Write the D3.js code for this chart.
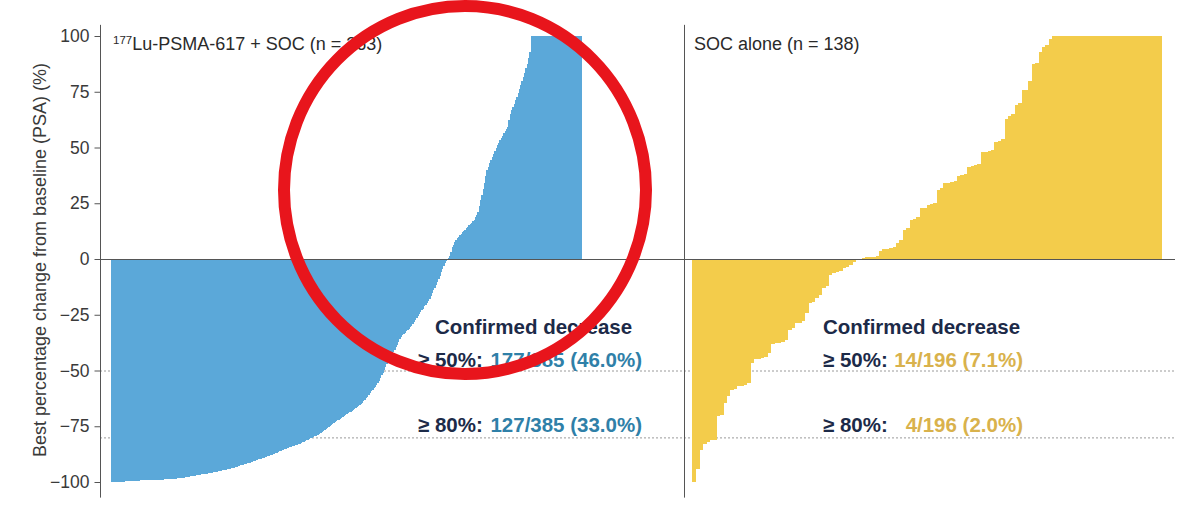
<!DOCTYPE html>
<html>
<head>
<meta charset="utf-8">
<script src="https://cdn.jsdelivr.net/npm/d3@7"></script>
<style>
  body { margin: 0; background: #fff; }
  svg { display: block; font-family: "Liberation Sans", Arial, sans-serif; }
</style>
</head>
<body>
<svg id="chart" width="1200" height="510"></svg>
<script>
// best PSA change per patient, sorted
const luValues = [
  -100,-100,-100,-100,-100,-100,-99.9,-99.9,-99.8,-99.8,-99.7,-99.7,-99.6,-99.6,-99.5,
  -99.5,-99.5,-99.5,-99.4,-99.4,-99.4,-99.4,-99.3,-99.3,-99.3,-99.3,-99.2,-99.2,-99.2,-99.2,
  -99.1,-99.1,-99.1,-99.0,-99.0,-99.0,-99.0,-98.9,-98.9,-98.9,-98.8,-98.8,-98.8,-98.7,-98.7,-98.7,
  -98.6,-98.6,-98.5,-98.5,-98.4,-98.3,-98.2,-98.2,-98.1,-98.0,-97.9,-97.8,-97.7,-97.6,-97.5,
  -97.4,-97.3,-97.2,-97.1,-97.0,-96.9,-96.8,-96.7,
  -96.6,-96.5,-96.4,-96.3,-96.2,-96.1,-96.0,-95.9,-95.8,-95.6,-95.5,-95.4,-95.3,-95.1,-95.0,
  -94.9,-94.8,-94.7,-94.5,-94.4,-94.3,-94.1,-94.0,-93.9,-93.7,
  -93.5,-93.3,-93.2,-93.0,-92.8,-92.6,-92.4,-92.2,-92.0,-91.8,-91.7,-91.5,-91.3,
  -91.1,-90.9,-90.7,-90.5,-90.3,-90.1,-89.9,-89.7,-89.5,-89.3,-89.1,-88.9,-88.7,-88.5,
  -88.3,-88.0,-87.8,-87.5,-87.3,-87.0,-86.8,-86.5,-86.3,-86.0,-85.8,-85.5,-85.2,
  -85.0,-84.8,-84.6,-84.4,-84.2,-84.0,-83.8,-83.6,-83.4,-83.2,-83.0,-82.8,-82.5,
  -82.2,-81.9,-81.6,-81.3,-81.0,-80.7,-80.4,-80.1,-79.8,-79.5,-79.3,-79.0,-78.8,
  -78.4,-78.0,-77.5,-77.0,-76.6,-76.2,-75.7,-75.3,-74.8,-74.4,-74.0,-73.6,
  -73.2,-72.8,-72.4,-72.0,-71.6,-71.2,-70.8,-70.4,-70.0,-69.6,-69.2,-68.8,-68.4,
  -68.0,-67.6,-67.2,-66.8,-66.3,-65.9,-65.4,-65.0,
  -64.4,-63.7,-63.1,-62.4,-61.7,
  -61.0,-60.2,-59.4,-58.7,-58.0,-57.2,-56.5,-55.7,
  -54.5,-53.3,-52.1,-50.9,-49.7,
  -48.5,-47.3,-46.2,-45.0,
  -43.9,-42.9,-41.8,-40.8,
  -39.6,-38.4,-37.2,-36.0,-34.8,
  -34.2,-33.6,-33.0,-32.4,-31.8,-31.2,-30.6,-30.0,
  -29.1,-28.2,-27.3,-26.5,-25.6,-24.7,-23.9,-23.0,
  -22.2,-21.3,-20.5,-19.7,-18.8,-18.0,
  -16.7,-15.4,-14.1,-12.9,-11.6,-10.3,-9.0,
  -7.5,-6.0,-4.5,-3.0,
  -2.0,-1.0,-0.3,
  0.5,1.5,3.0,5.5,6.5,7.5,8.4,9.2,
  9.9,10.6,11.2,11.9,12.6,13.2,13.9,14.5,
  15.1,15.7,16.3,16.9,17.5,18.7,19.9,21.0,23.7,26.4,
  28.9,31.5,34.0,37.0,39.9,
  41.4,42.9,44.4,45.8,47.3,48.5,49.7,50.9,52.1,53.3,
  54.3,55.3,56.3,57.2,58.2,59.2,62.2,65.2,
  66.7,68.2,69.7,71.2,72.7,74.5,76.3,78.0,79.8,81.6,
  83.6,85.6,87.6,90.3,93.0,
  100,100,100,100,100,100,100,100,100,100,100,100,100,
  100,100,100,100,100,100,100,100,100,100,100,100,100,
  100,100,100,100,100,100,100,100,100,100,100,100,100
];

const socValues = [
  -100,-94,-85.5,-83,-82,-81,-81,-70.6,-70,-64.6,-61.6,-58.7,-58.5,-57,-57,-56.5,-55.7,
  -46.7,-45,-45,-44.5,-44,-42,-38,-37.8,-37.5,-37,-36.5,-31.8,-31,-28.8,-28.5,-28,-24.3,
  -19.9,-19.5,-17.6,-16,-13,-12,-7,-6.4,-6,-5.5,-4.2,-3.5,-2.7,-1.5,-0.5,
  0.2,
  0.3,0.7,0.8,1,1.5,3.5,4.3,4.5,4.8,5.5,7,8.5,13,14,17.5,18,19,
  22.7,23,24.2,24.5,25,31,32,34,34,34.5,35,37,37.5,38,41.3,41.5,42,42.8,48,48,48.5,49,
  52.5,53,54,63,64,65,69,70,75.7,76,80,87.6,88,92.8,95,96,98.8,
  100,100,100,100,100,100,100,100,100,100,100,100,100,100,100,100,
  100,100,100,100,100,100,100,100,100,100,100,100,100,100,100,100
];

const tickValues = [-100, -75, -50, -25, 0, 25, 50, 75, 100];
const thresholds = [-50, -80];
const summaryLabels = ['\u2265 50%:', '\u2265 80%:'];
const luSummary = ['177/385 (46.0%)', '127/385 (33.0%)'];
const socSummary = ['14/196 (7.1%)', '4/196 (2.0%)'];

const blue = '#5ba8d9';
const yellow = '#f3cc4b';
const navy = '#1c2a48';

const svg = d3.select('#chart');

/* Scales */
let y = d3.scaleLinear().domain([-100, 100]).range([482, 36]);
let xLu = d3.scaleBand().domain(d3.range(luValues.length)).range([111, 581]).padding(0);
let xSoc = d3.scaleBand().domain(d3.range(socValues.length)).range([692, 1161]).padding(0);

let axisX = 100;
let dividerX = 684;
let lineEnd = 1175;

/* dotted threshold lines (behind bars) */
svg.append('g')
  .selectAll('line')
  .data(thresholds)
  .enter()
  .append('line')
  .attr('x1', axisX)
  .attr('x2', lineEnd)
  .attr('y1', d => y(d) + 0.5)
  .attr('y2', d => y(d) + 0.5)
  .attr('stroke', '#9a9a9a')
  .attr('stroke-width', 1)
  .attr('stroke-dasharray', '2,2');

/* bars */
function drawBars(values, x, color) {
  svg.append('g')
    .attr('shape-rendering', 'crispEdges')
    .selectAll('rect')
    .data(values)
    .enter()
    .append('rect')
    .attr('x', (d, i) => x(i))
    .attr('width', x.bandwidth() + 1)
    .attr('y', d => y(Math.max(0, d)))
    .attr('height', d => Math.abs(y(d) - y(0)))
    .attr('fill', color);
}
drawBars(luValues, xLu, blue);
drawBars(socValues, xSoc, yellow);

/* zero line + divider */
svg.append('line')
  .attr('x1', axisX).attr('x2', lineEnd)
  .attr('y1', y(0) + 0.5).attr('y2', y(0) + 0.5)
  .attr('stroke', '#555').attr('stroke-width', 1);

svg.append('line')
  .attr('x1', dividerX + 0.5).attr('x2', dividerX + 0.5)
  .attr('y1', y(105)).attr('y2', y(-107))
  .attr('stroke', '#555').attr('stroke-width', 1);

/* y axis */
let yAxis = d3.axisLeft(y).tickValues(tickValues).tickSize(6).tickPadding(5);
let gy = svg.append('g')
  .attr('transform', `translate(${axisX + 0.5},0)`)
  .call(yAxis);
gy.select('.domain').remove();
gy.selectAll('.tick line').attr('stroke', '#555');
gy.selectAll('.tick text')
  .attr('fill', '#3a3a3a')
  .style('font-size', '17.5px')
  .style('font-family', '"Liberation Sans", Arial, sans-serif');
svg.append('line')
  .attr('x1', axisX + 0.5).attr('x2', axisX + 0.5)
  .attr('y1', y(105)).attr('y2', y(-107))
  .attr('stroke', '#555').attr('stroke-width', 1);

svg.append('text')
  .attr('transform', 'translate(46,260) rotate(-90)')
  .attr('text-anchor', 'middle')
  .attr('fill', '#3a3a3a')
  .style('font-size', '18px')
  .text('Best percentage change from baseline (PSA) (%)');

/* panel titles */
let t1 = svg.append('text')
  .attr('x', 113).attr('y', 50)
  .attr('fill', '#2a2a2a')
  .style('font-size', '18px');
t1.append('tspan').attr('dy', -6).style('font-size', '11.5px').text('177');
t1.append('tspan').attr('dy', 6).text('Lu-PSMA-617 + SOC (n = 363)');

svg.append('text')
  .attr('x', 694).attr('y', 50)
  .attr('fill', '#2a2a2a')
  .style('font-size', '18px')
  .text('SOC alone (n = 138)');

/* summary boxes */
function drawSummary(titleX, labelX, valueEnd, values, color) {
  svg.append('text')
    .attr('x', titleX).attr('y', 334)
    .attr('fill', navy)
    .style('font-size', '20.5px')
    .style('font-weight', 'bold')
    .text('Confirmed decrease');
  summaryLabels.forEach((lab, i) => {
    svg.append('text')
      .attr('x', labelX).attr('y', 367 + i * 65)
      .attr('fill', navy)
      .style('font-size', '20.5px')
      .style('font-weight', 'bold')
      .text(lab);
    svg.append('text')
      .attr('x', valueEnd).attr('y', 367 + i * 65)
      .attr('text-anchor', 'end')
      .attr('fill', color)
      .style('font-size', '20.5px')
      .style('font-weight', 'bold')
      .text(values[i]);
  });
}
drawSummary(435, 418, 642, luSummary, '#2f80a8');
drawSummary(823, 823, 1023, socSummary, '#d9b24c');

/* red highlight circle */
svg.append('ellipse')
  .attr('cx', 465).attr('cy', 190)
  .attr('rx', 181).attr('ry', 184)
  .attr('fill', 'none')
  .attr('stroke', '#e8151c')
  .attr('stroke-width', 12);
</script>
</body>
</html>
